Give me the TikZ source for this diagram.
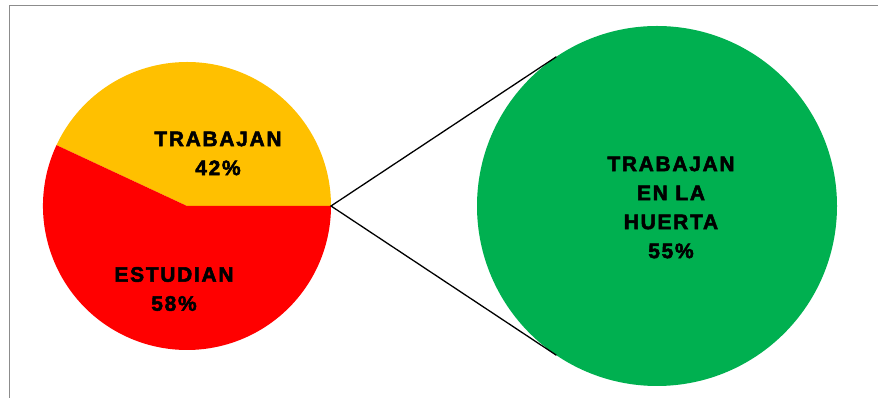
\documentclass[tikz,border=0pt]{standalone}
\usepackage{fontspec}
\usepackage{tikz}
\usetikzlibrary{shapes}
\newfontfamily\chartfont{Liberation Sans Bold}[LetterSpace=8, FakeBold=2.5]
\definecolor{pieyellow}{HTML}{FFC000}
\definecolor{piered}{HTML}{FF0000}
\definecolor{piegreen}{HTML}{00B050}
\newcommand{\pierad}{144}
\newcommand{\cutang}{155}

\begin{document}
\begin{tikzpicture}[x=1pt,y=1pt]
            %\draw[help lines] (0,0) grid (878,398);
            \tikzset{pielabel/.style = {align=center, font=\chartfont\fontsize{21}{29}\selectfont, inner sep=0pt}}
            \useasboundingbox (0,0) rectangle (878,398);
            \draw[gray!90, line width=1pt] (9,0) -- (9,392.5) -- (878,392.5);
            \coordinate (c) at (187,192);
            \fill[pieyellow] (c) -- ++(0:\pierad) arc (0:\cutang:\pierad) -- cycle;
            \fill[piered] (c) -- ++(\cutang:\pierad) arc (\cutang:360:\pierad) -- cycle;
            \node[circle, minimum size=288pt, inner sep=0pt, outer sep=0pt] (pie) at (c) {};
            \node[circle, fill=piegreen, minimum size=360pt, inner sep=0pt, outer sep=0pt] (huerta) at (657,192) {};
            \draw[line width=1.3pt] (huerta.124) -- (pie.east) -- (huerta.236);
            \node[pielabel] (trabajan) at (218,244.5) {TRABAJAN\\42\%};
            \node[pielabel] (estudian) at (174,109) {ESTUDIAN\\58\%};
            \node[pielabel] (huertatxt) at (671,190.5) {TRABAJAN\\EN LA\\HUERTA\\55\%};
        \end{tikzpicture}
\end{document}
